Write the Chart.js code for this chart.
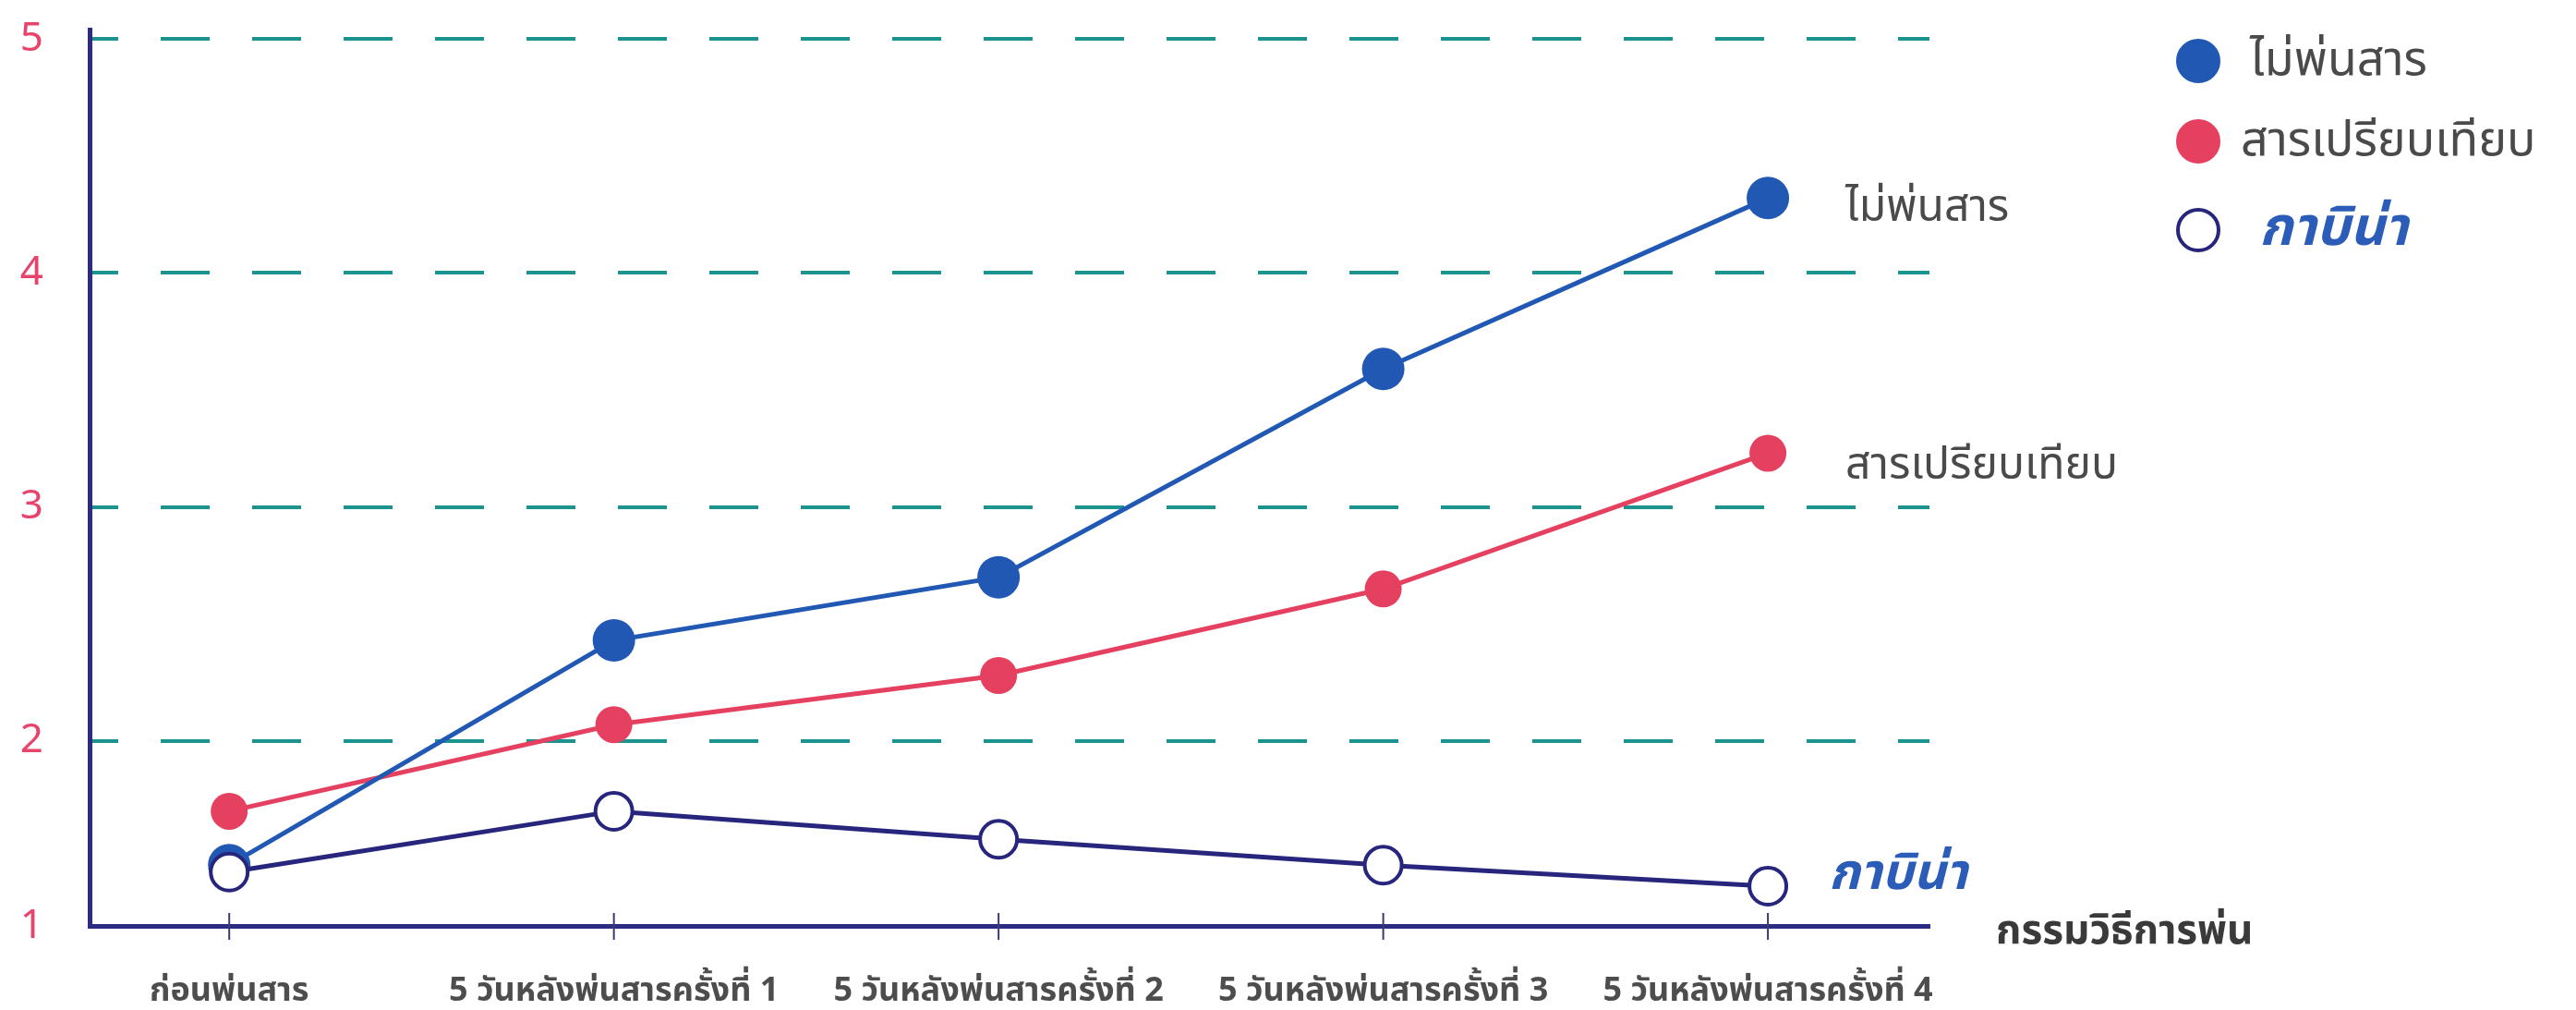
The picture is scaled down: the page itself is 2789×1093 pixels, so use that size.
<!DOCTYPE html>
<html><head><meta charset="utf-8">
<script src="https://cdn.jsdelivr.net/npm/chart.js@4.4.1/dist/chart.umd.min.js"></script>
<style>html,body{margin:0;padding:0;background:#fff;}#wrap{width:2789px;height:1093px;}</style>
</head><body><div id="wrap"><canvas id="c" width="2789" height="1093"></canvas></div>
<script>
// ---- data ----
const categories = ['ก่อนพ่นสาร', '5 วันหลังพ่นสารครั้งที่ 1', '5 วันหลังพ่นสารครั้งที่ 2', '5 วันหลังพ่นสารครั้งที่ 3', '5 วันหลังพ่นสารครั้งที่ 4'];
const seriesNames = ['ไม่พ่นสาร', 'สารเปรียบเทียบ', 'กาบิน่า'];
const noSpray    = [1.47, 2.43, 2.70, 3.59, 4.32];
const comparison = [1.70, 2.07, 2.28, 2.65, 3.23];
const kabina     = [1.44, 1.70, 1.58, 1.47, 1.38];
const yAxisMin = 1.21, yAxisMax = 5.04;
const yTickValues = [yAxisMin, 2, 3, 4, 5];
const yTickLabels = ['1', '2', '3', '4', '5'];
const xAxisTitle = 'กรรมวิธีการพ่น';

// ---- styles ----
const THAI = "'Noto Sans Thai', 'Noto Sans Thai UI', Loma, Garuda, 'TlwgTypo', 'Noto Sans', sans-serif";
const BLUE = '#2058b4', RED = '#e5405f', NAVY = '#28267c', TEAL = '#1b9490', AXIS = '#2d2c85';

const toXY = arr => arr.map((v, i) => ({x: i, y: v}));

const extras = {
  id: 'extras',
  afterDatasetsDraw(chart, args, opts) {
    const ctx = chart.ctx;
    const xs = chart.scales.x;
    const bottom = chart.chartArea.bottom;
    ctx.save();
    // tick marks crossing the x axis
    ctx.strokeStyle = '#3a3a70';
    ctx.lineWidth = 2;
    categories.forEach((c, i) => {
      const px = xs.getPixelForValue(i);
      ctx.beginPath(); ctx.moveTo(px, bottom - 14); ctx.lineTo(px, bottom + 15); ctx.stroke();
    });
    // axis title
    ctx.fillStyle = '#3a3a3a';
    ctx.font = 'bold 44px ' + THAI;
    ctx.textBaseline = 'middle';
    ctx.textAlign = 'left';
    ctx.fillText(xAxisTitle, chart.chartArea.right + 72, bottom + 10);
    // end labels + legend
    const styles = opts.labelStyles;
    chart.data.datasets.forEach((ds, i) => {
      const meta = chart.getDatasetMeta(i);
      const last = meta.data[meta.data.length - 1];
      const st = styles[i];
      ctx.fillStyle = st.color;
      ctx.font = st.font(st.endSize);
      ctx.textAlign = 'left';
      ctx.textBaseline = 'middle';
      ctx.fillText(ds.label, last.x + st.dx, last.y + st.dy);
      // legend
      const ly = opts.legendY[i];
      const lx = opts.legendX;
      ctx.beginPath();
      ctx.arc(lx, ly, 22, 0, Math.PI * 2);
      ctx.fillStyle = ds.pointBackgroundColor;
      ctx.fill();
      ctx.lineWidth = 4;
      ctx.strokeStyle = ds.pointBorderColor;
      ctx.stroke();
      ctx.fillStyle = st.color;
      ctx.font = st.font(st.legendSize);
      ctx.fillText(ds.label, lx + 56 + st.lx, ly + 4);
    });
    ctx.restore();
  }
};

new Chart(document.getElementById('c'), {
  type: 'line',
  data: {
    datasets: [
      { label: seriesNames[0], data: toXY(noSpray), borderColor: BLUE, borderWidth: 5,
        pointRadius: 23, pointBackgroundColor: BLUE, pointBorderColor: BLUE, pointBorderWidth: 0, order: 1 },
      { label: seriesNames[1], data: toXY(comparison), borderColor: RED, borderWidth: 5,
        pointRadius: 20, pointBackgroundColor: RED, pointBorderColor: RED, pointBorderWidth: 0, order: 2 },
      { label: seriesNames[2], data: toXY(kabina), borderColor: NAVY, borderWidth: 5,
        pointRadius: 20, pointBackgroundColor: '#ffffff', pointBorderColor: NAVY, pointBorderWidth: 4, order: 0 }
    ]
  },
  options: {
    responsive: false,
    animation: false,
    devicePixelRatio: 1,
    layout: { padding: { top: 32, right: 700, left: 0, bottom: 0 } },
    plugins: {
      legend: { display: false },
      tooltip: { enabled: false },
      extras: {
        legendX: 2380,
        legendY: [66, 153, 249],
        labelStyles: [
          { color: '#4a4a4a', font: s => s + 'px ' + THAI, dx: 84, dy: 15, lx: 0, endSize: 48, legendSize: 52 },
          { color: '#4a4a4a', font: s => s + 'px ' + THAI, dx: 84, dy: 18, lx: -10, endSize: 48, legendSize: 52 },
          { color: '#2a5cb8', font: s => 'italic bold ' + s + 'px ' + THAI, dx: 66, dy: -8, lx: 10, endSize: 54, legendSize: 58 }
        ]
      }
    },
    scales: {
      x: {
        type: 'linear',
        min: -0.363, max: 4.42,
        afterBuildTicks: s => { s.ticks = categories.map((c, i) => ({ value: i })); },
        afterFit: s => { s.height = 91; s.paddingLeft = 0; s.paddingRight = 0; },
        ticks: {
          autoSkip: false, maxRotation: 0, padding: 52,
          callback: v => categories[v],
          color: '#4d4d4d',
          font: { family: THAI, size: 36, weight: 'bold' }
        },
        grid: { display: false, drawTicks: false },
        border: { display: true, color: AXIS, width: 5 }
      },
      y: {
        type: 'linear',
        min: yAxisMin, max: yAxisMax,
        afterBuildTicks: s => { s.ticks = yTickValues.map(v => ({ value: v })); },
        afterFit: s => { s.width = 97; s.paddingTop = 0; s.paddingBottom = 0; },
        ticks: {
          padding: 50,
          callback: (v, i) => yTickLabels[i],
          color: '#e8436a',
          font: { family: "'Noto Sans', sans-serif", size: 44 }
        },
        grid: {
          drawTicks: false,
          lineWidth: 4,
          color: ctx => ctx.index === 0 ? 'rgba(0,0,0,0)' : TEAL
        },
        border: { display: true, color: AXIS, width: 5, dash: [53, 46], dashOffset: 25 }
      }
    }
  },
  plugins: [extras]
});
</script></body></html>
